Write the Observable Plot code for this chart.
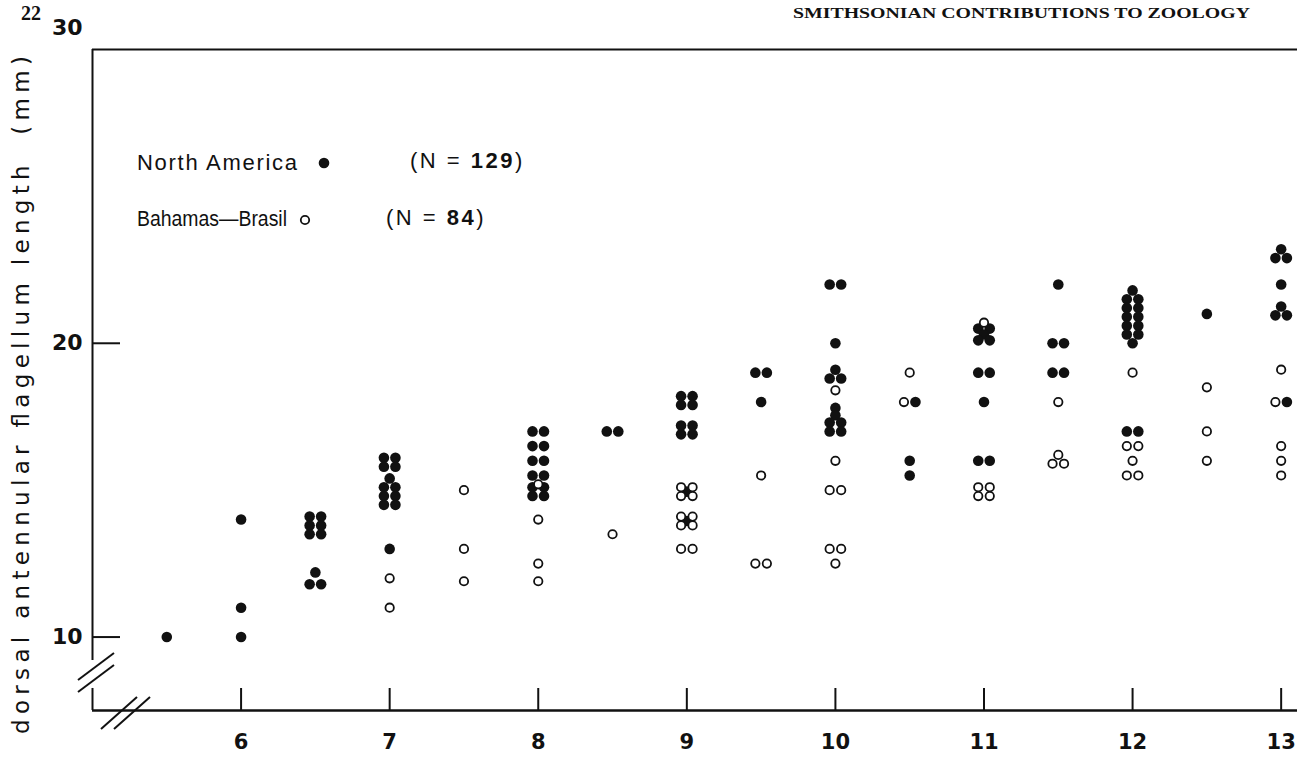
<!DOCTYPE html>
<html><head><meta charset="utf-8">
<script src="https://cdn.jsdelivr.net/npm/d3@7"></script>
<script src="https://cdn.jsdelivr.net/npm/@observablehq/plot@0.6"></script>
<style>html,body{margin:0;padding:0;background:#fff}#chart svg{display:block}</style>
</head><body><div id="chart"></div>
<script>
// ---- data ----
const xTicks = [6, 7, 8, 9, 10, 11, 12, 13];
const yTicks = [10, 20];
const yTopTick = [30];
const seriesNames = ["North America", "Bahamas\u2014Brasil"];
const seriesN = [129, 84];

// [x, y] pairs, North America (solid dots)
const northAmerica = [
  [5.5,10],
  [6,14],[6,11],[6,10],
  [6.5,14.1],[6.5,14.1],[6.5,13.8],[6.5,13.8],[6.5,13.5],[6.5,13.5],[6.5,12.2],[6.5,11.8],[6.5,11.8],
  [7,16.1],[7,16.1],[7,15.8],[7,15.8],[7,15.4],[7,15.1],[7,15.1],[7,14.8],[7,14.8],[7,14.5],[7,14.5],[7,13],
  [8,17],[8,17],[8,16.5],[8,16.5],[8,16],[8,16],[8,15.5],[8,15.5],[8,15.1],[8,15.1],[8,14.8],[8,14.8],
  [8.5,17],[8.5,17],
  [9,18.2],[9,18.2],[9,17.9],[9,17.9],[9,17.2],[9,17.2],[9,16.9],[9,16.9],[9,14.95],[9,13.95],
  [9.5,19],[9.5,19],[9.5,18],
  [10,22],[10,22],[10,20],[10,19.1],[10,18.8],[10,18.8],[10,17.8],[10,17.55],[10,17.3],[10,17.3],[10,17],[10,17],
  [10.5,18],[10.5,16],[10.5,15.5],
  [11,20.5],[11,20.5],[11,20.3],[11,20.1],[11,20.1],[11,19],[11,19],[11,18],[11,16],[11,16],
  [11.5,22],[11.5,20],[11.5,20],[11.5,19],[11.5,19],
  [12,21.8],[12,21.5],[12,21.5],[12,21.2],[12,21.2],[12,20.9],[12,20.9],[12,20.6],[12,20.6],[12,20.3],[12,20.3],[12,20],[12,17],[12,17],
  [12.5,21],
  [13,23.2],[13,22.9],[13,22.9],[13,22],[13,21.25],[13,20.95],[13,20.95],[13,18]
];

// [x, y] pairs, Bahamas-Brasil (open dots)
const bahamasBrasil = [
  [7,12],[7,11],
  [7.5,15],[7.5,13],[7.5,11.9],
  [8,15.2],[8,14],[8,12.5],[8,11.9],
  [8.5,13.5],
  [9,15.1],[9,15.1],[9,14.8],[9,14.8],[9,14.1],[9,14.1],[9,13.8],[9,13.8],[9,13],[9,13],
  [9.5,15.5],[9.5,12.5],[9.5,12.5],
  [10,18.4],[10,16],[10,15],[10,15],[10,13],[10,13],[10,12.5],
  [10.5,19],[10.5,18],
  [11,20.7],[11,15.1],[11,15.1],[11,14.8],[11,14.8],
  [11.5,18],[11.5,16.2],[11.5,15.9],[11.5,15.9],
  [12,19],[12,16.5],[12,16.5],[12,16],[12,15.5],[12,15.5],
  [12.5,18.5],[12.5,17],[12.5,16],
  [13,19.1],[13,18],[13,16.5],[13,16],[13,15.5]
];

// ---- layout ----
const W = 1297, H = 763;
const mL = 92, mR = 0, mT = 49, mB = 53;
const xDomain = [5.0, 13.11];
const yDomain = [7.5, 30];
const plotW = W - mL - mR, plotH = H - mT - mB;
const pxPerX = plotW / (xDomain[1] - xDomain[0]);
const step = 11.5 / pxPerX; // side-by-side spacing of coincident dots

// combine and spread coincident points horizontally (open first = left)
const all = [
  ...bahamasBrasil.map(([x, y]) => ({x, y, s: 1})),
  ...northAmerica.map(([x, y]) => ({x, y, s: 0}))
];
const groups = d3.group(all, d => d.x + "|" + d.y);
for (const g of groups.values()) {
  g.forEach((d, i) => { d.px = d.x + (i - (g.length - 1) / 2) * step; });
}
const solid = all.filter(d => d.s === 0);
const open = all.filter(d => d.s === 1);

const tickFont = "'DejaVu Sans','Liberation Sans',sans-serif";
const ink = "#111";

const chart = Plot.plot({
  width: W, height: H,
  marginLeft: mL, marginRight: mR, marginTop: mT, marginBottom: mB,
  x: {domain: xDomain},
  y: {domain: yDomain},
  style: {background: "#fff", color: ink},
  marks: [
    Plot.ruleY(yTopTick, {y: d => d, stroke: ink, strokeWidth: 2}),
    Plot.ruleY([yDomain[0]], {y: d => d, stroke: ink, strokeWidth: 2.5}),
    Plot.ruleX([xDomain[0]], {x: d => d, y1: 30, y2: 9.2, stroke: ink, strokeWidth: 2}),
    Plot.ruleX([xDomain[0]], {x: d => d, y1: 8.25, y2: yDomain[0], stroke: ink, strokeWidth: 2}),
    Plot.tickY(yTicks, {y: d => d, insetRight: plotW - 28, stroke: ink, strokeWidth: 2}),
    Plot.tickX(xTicks, {x: d => d, insetTop: plotH - 22, stroke: ink, strokeWidth: 2}),
    Plot.axisX(xTicks, {tickSize: 0, tickPadding: 24, tickFormat: d3.format("d"), label: null, fontSize: 21, fontWeight: "bold", fontFamily: tickFont, fill: ink}),
    Plot.axisY(yTicks, {tickSize: 0, tickPadding: 10, tickFormat: d3.format("d"), label: null, fontSize: 22, fontWeight: "bold", fontFamily: tickFont, fill: ink}),
    Plot.axisY(yTopTick, {tickSize: 0, tickPadding: 10, tickFormat: d3.format("d"), dy: -22, label: null, fontSize: 22, fontWeight: "bold", fontFamily: tickFont, fill: ink}),
    Plot.dot(solid, {x: "px", y: "y", r: 5.3, fill: ink, stroke: "none"}),
    Plot.dot(open, {x: "px", y: "y", r: 4.2, fill: "#fff", stroke: ink, strokeWidth: 1.8})
  ]
});

const svg = d3.select(chart);
const serif = "'Liberation Serif','DejaVu Serif',serif";
const sans = "'DejaVu Sans','Noto Sans',sans-serif";
const legSans = "'Liberation Sans','DejaVu Sans',sans-serif";

// page header
svg.append("text").attr("x", 21).attr("y", 20).attr("text-anchor", "start").attr("font-family", serif).attr("font-weight", "bold")
  .attr("font-size", 20).attr("fill", ink).text("22");
svg.append("text").attr("x", 793).attr("y", 18).attr("text-anchor", "start").attr("font-family", serif).attr("font-weight", "bold")
  .attr("font-size", 14).attr("fill", ink).attr("textLength", 457).attr("lengthAdjust", "spacingAndGlyphs")
  .text("SMITHSONIAN CONTRIBUTIONS TO ZOOLOGY");

// y-axis title
svg.append("text").attr("transform", "translate(29,395) rotate(-90)").attr("text-anchor", "middle")
  .attr("font-family", sans).attr("font-size", 23).attr("fill", ink)
  .attr("textLength", 678).attr("lengthAdjust", "spacing")
  .text("dorsal antennular flagellum length  (mm)");

// legend
const leg = svg.append("g").attr("font-family", legSans).attr("font-size", 22).attr("fill", ink).attr("text-anchor", "start");
leg.append("text").attr("x", 137).attr("y", 170).attr("textLength", 160).attr("lengthAdjust", "spacing").text(seriesNames[0]);
leg.append("circle").attr("cx", 324).attr("cy", 163).attr("r", 5.3).attr("fill", ink);
const n1 = leg.append("text").attr("x", 410).attr("y", 168).attr("letter-spacing", 2.5);
n1.append("tspan").text("(N = ");
n1.append("tspan").attr("font-weight", "bold").text(seriesN[0]);
n1.append("tspan").text(")");
leg.append("text").attr("x", 137).attr("y", 226).attr("textLength", 150).attr("lengthAdjust", "spacingAndGlyphs").text(seriesNames[1]);
leg.append("circle").attr("cx", 305).attr("cy", 220).attr("r", 4.2).attr("fill", "#fff").attr("stroke", ink).attr("stroke-width", 1.8);
const n2 = leg.append("text").attr("x", 386).attr("y", 225).attr("letter-spacing", 2.5);
n2.append("tspan").text("(N = ");
n2.append("tspan").attr("font-weight", "bold").text(seriesN[1]);
n2.append("tspan").text(")");

// axis break marks
const brk = svg.append("g").attr("stroke", ink).attr("stroke-width", 2);
[[78, 680, 114, 653], [78, 692, 114, 665], [101, 729, 137, 697], [114, 729, 150, 697]].forEach(([x1, y1, x2, y2]) => {
  brk.append("line").attr("x1", x1).attr("y1", y1).attr("x2", x2).attr("y2", y2);
});

document.getElementById("chart").append(chart);
</script></body></html>
